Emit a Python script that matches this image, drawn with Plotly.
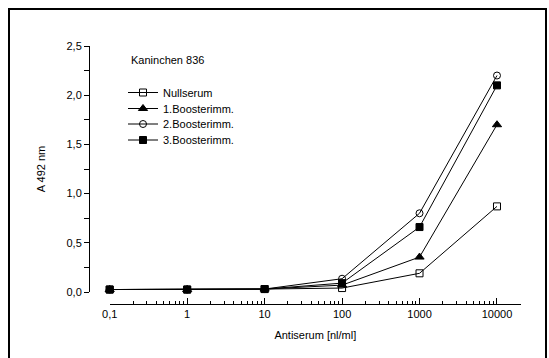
import plotly.graph_objects as go

# Data
conc = [0.1, 1, 10, 100, 1000, 10000]
nullserum = [0.025, 0.025, 0.03, 0.04, 0.19, 0.87]
booster1 = [0.025, 0.025, 0.03, 0.07, 0.355, 1.70]
booster2 = [0.025, 0.025, 0.03, 0.135, 0.80, 2.20]
booster3 = [0.025, 0.025, 0.03, 0.09, 0.66, 2.10]
series_names = ["Nullserum", "1.Boosterimm.", "2.Boosterimm.", "3.Boosterimm."]
x_tickvals = [0.1, 1, 10, 100, 1000, 10000]
x_ticktext = ["0,1", "1", "10", "100", "1000", "10000"]
y_tickvals = [0, 0.5, 1.0, 1.5, 2.0, 2.5]

FONT = "Arial, Liberation Sans, sans-serif"
W, H = 549, 358
L, R, T, B = 89, 521, 46, 304   # plot area pixel box
PW, PH = R - L, B - T

def px_x(px):
    return (px - L) / PW

def px_y(py):
    return (B - py) / PH

styles = [
    dict(symbol="square-open", size=7),
    dict(symbol="triangle-up", size=8),
    dict(symbol="circle-open", size=7),
    dict(symbol="square", size=7),
]
legend_ids = ["legend", "legend2", "legend3", "legend4"]
legend_rows = [92.5, 108.5, 124, 140]

fig = go.Figure()
for name, vals, st, lid in zip(series_names, [nullserum, booster1, booster2, booster3], styles, legend_ids):
    fig.add_trace(go.Scatter(
        x=conc, y=vals, name=name, mode="lines+markers",
        line=dict(color="black", width=1),
        marker=dict(symbol=st["symbol"], size=st["size"], color="black",
                    line=dict(color="black", width=1)),
        cliponaxis=False, legend=lid,
    ))

legend_layout = {}
for lid, row in zip(legend_ids, legend_rows):
    legend_layout[lid] = dict(
        x=px_x(123), y=px_y(row), xanchor="left", yanchor="middle",
        bgcolor="rgba(0,0,0,0)", font=dict(size=11, family=FONT),
        itemwidth=30, borderwidth=0,
    )

fig.update_layout(
    width=W, height=H,
    margin=dict(l=L, r=W - R, t=T, b=H - B, pad=0),
    paper_bgcolor="white", plot_bgcolor="white",
    separators=",.",
    font=dict(family=FONT, size=11, color="black"),
    showlegend=True,
    xaxis=dict(
        type="log", range=[-1, 4.31],
        domain=[px_x(109.7), 1],
        anchor="free", position=0,
        showline=True, linecolor="black", linewidth=1,
        showgrid=False, zeroline=False,
        tickvals=x_tickvals, ticktext=x_ticktext,
        ticks="inside", ticklen=6, tickcolor="black",
        minor=dict(ticks="inside", ticklen=3, tickcolor="black", dtick="D1", showgrid=False),
        tickfont=dict(size=11),
        title=dict(text="Antiserum [nl/ml]", font=dict(size=11), standoff=12),
    ),
    yaxis=dict(
        range=[0, 2.5],
        domain=[px_y(292), 1],
        anchor="free", position=0,
        showline=True, linecolor="black", linewidth=1,
        showgrid=False, zeroline=False,
        tickvals=y_tickvals, tickformat=".1f",
        ticks="outside", ticklen=5, tickcolor="black",
        minor=dict(ticks="outside", ticklen=5, tickcolor="black", dtick=0.25, showgrid=False),
        tickfont=dict(size=11),
        title=dict(text="A 492 nm", font=dict(size=11), standoff=17),
    ),
    shapes=[dict(
        type="rect", xref="paper", yref="paper",
        x0=px_x(9), x1=px_x(546), y0=px_y(362), y1=px_y(9),
        line=dict(color="black", width=2), fillcolor="rgba(0,0,0,0)", layer="below",
    )],
    annotations=[dict(
        text="Kaninchen 836", xref="paper", yref="paper",
        x=px_x(129), y=px_y(60), xanchor="left", yanchor="middle",
        showarrow=False, font=dict(size=11),
    )],
    **legend_layout,
)

fig.write_html("out.html")
